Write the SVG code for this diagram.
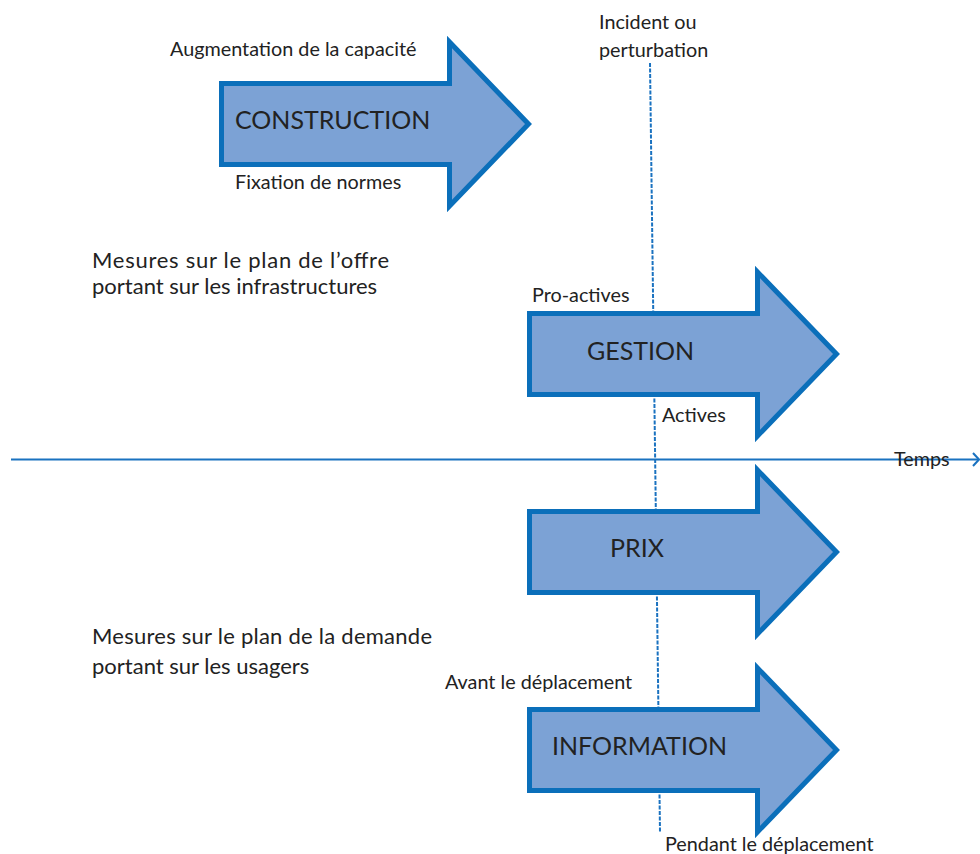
<svg xmlns="http://www.w3.org/2000/svg" xmlns:xlink="http://www.w3.org/1999/xlink" width="980" height="854" viewBox="0 0 980 854">
  <style>
    .lbl { font-family: Lato, "Liberation Sans", sans-serif; fill: #222222; }
    .small { font-size: 19.8px; }
    .mid { font-size: 22px; }
    .big { font-size: 25px; }
    .arrow { fill: #7ca2d5; stroke: #0b6fba; stroke-width: 5; stroke-linejoin: miter; stroke-miterlimit: 10; }
    .guide { stroke: #1a72c0; stroke-width: 2; fill: none; }
  </style>
  <defs>
    <!-- block arrow, origin at outer top-left of the head -->
    <path id="blockArrow" d="M2.5,46.5 L230.5,46.5 L230.5,5 L309.5,87 L230.5,169 L230.5,127.5 L2.5,127.5 Z"/>
  </defs>
  <rect width="980" height="854" fill="#ffffff"/>

  <!-- connectors: event line and time axis -->
  <g id="connectors">
    <line class="guide" x1="650" y1="63" x2="660" y2="832" stroke-dasharray="4 1.5"/>
    <line class="guide" x1="11" y1="459.5" x2="978" y2="459.5" stroke-width="2.5"/>
    <polyline class="guide" points="973,453 979,459.5 973,466" stroke-width="2.5"/>
  </g>

  <g id="construction">
    <use xlink:href="#blockArrow" class="arrow" transform="translate(219,37)"/>
    <text class="lbl big" x="235" y="129">CONSTRUCTION</text>
    <text class="lbl small" x="170" y="56">Augmentation de la capacité</text>
    <text class="lbl small" x="235" y="189">Fixation de normes</text>
  </g>

  <g id="incident">
    <text class="lbl small" x="599" y="29">Incident ou</text>
    <text class="lbl small" x="599" y="57">perturbation</text>
  </g>

  <g id="offre">
    <text class="lbl mid" x="92" y="268" textLength="297" lengthAdjust="spacing">Mesures sur le plan de l’offre</text>
    <text class="lbl mid" x="92" y="294">portant sur les infrastructures</text>
  </g>

  <g id="gestion">
    <use xlink:href="#blockArrow" class="arrow" transform="translate(527,267)"/>
    <text class="lbl big" x="587" y="360">GESTION</text>
    <text class="lbl small" x="532" y="302">Pro-actives</text>
    <text class="lbl small" x="662" y="422">Actives</text>
  </g>

  <g id="temps">
    <text class="lbl small" x="894" y="466">Temps</text>
  </g>

  <g id="prix">
    <use xlink:href="#blockArrow" class="arrow" transform="translate(527,465)"/>
    <text class="lbl big" x="610" y="557">PRIX</text>
  </g>

  <g id="demande">
    <text class="lbl mid" x="92" y="644" textLength="340" lengthAdjust="spacing">Mesures sur le plan de la demande</text>
    <text class="lbl mid" x="92" y="674">portant sur les usagers</text>
  </g>

  <g id="information">
    <use xlink:href="#blockArrow" class="arrow" transform="translate(527,663)"/>
    <text class="lbl big" x="552" y="755">INFORMATION</text>
    <text class="lbl small" x="445" y="689">Avant le déplacement</text>
    <text class="lbl small" x="665" y="851">Pendant le déplacement</text>
  </g>
</svg>
